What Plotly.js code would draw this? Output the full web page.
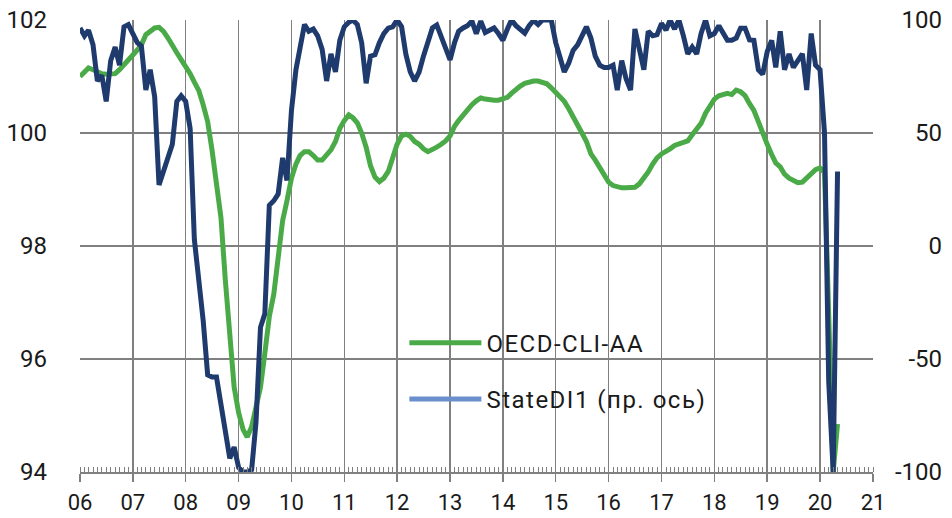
<!DOCTYPE html>
<html><head><meta charset="utf-8">
<script src="https://cdn.plot.ly/plotly-3.0.1.min.js"></script>
<style>html,body{margin:0;padding:0;background:#fff}#chart{width:952px;height:518px}
.legendtext{letter-spacing:1.5px}</style>
</head><body><div id="chart"></div>
<script>
// Monthly data, Jan 2006 .. May 2020
const firstYear = 2006;
const oecdCli = [
101.0,101.08,101.15,101.12,101.08,101.05,101.04,101.04,101.05,101.12,101.2,101.29,
101.38,101.47,101.56,101.74,101.8,101.86,101.87,101.8,101.68,101.53,101.42,101.3,
101.18,101.05,100.9,100.75,100.5,100.2,99.7,99.1,98.5,97.4,96.4,95.5,
95.05,94.75,94.62,94.8,95.15,95.5,96.1,96.75,97.15,97.8,98.45,98.8,
99.2,99.45,99.6,99.67,99.67,99.6,99.52,99.52,99.6,99.7,99.85,100.08,
100.22,100.32,100.27,100.18,100.0,99.75,99.42,99.22,99.14,99.2,99.32,99.55,
99.8,99.95,99.98,99.94,99.85,99.8,99.72,99.67,99.7,99.75,99.8,99.86,
99.95,100.12,100.22,100.32,100.42,100.5,100.57,100.62,100.6,100.58,100.58,100.58,
100.6,100.63,100.7,100.78,100.83,100.88,100.91,100.92,100.92,100.9,100.87,100.8,
100.72,100.64,100.56,100.43,100.3,100.17,100.0,99.85,99.63,99.52,99.38,99.23,
99.13,99.07,99.04,99.03,99.03,99.03,99.04,99.1,99.2,99.31,99.45,99.56,
99.63,99.67,99.72,99.78,99.8,99.82,99.86,99.97,100.07,100.17,100.35,100.48,
100.6,100.66,100.68,100.7,100.68,100.76,100.73,100.66,100.52,100.4,100.2,99.98,
99.8,99.62,99.47,99.4,99.27,99.2,99.15,99.12,99.13,99.2,99.28,99.35,
99.38,99.3,96.8,94.0,94.85
];
const stateDi = [
96.5,93,95.5,89,73,75.5,64,82,88,80,97,98,
94,90,88.5,69,78,66,27,33,40,45,64,66.5,
64,52,3,-15,-33,-57,-58,-58,-71,-84,-94,-89,
-98,-100,-100,-99,-78,-36,-30,18,20,23,39,29,
60,78,88,98,95,96,93,87,73,85,77,91,
97,99,100,98,90,72,84,84.6,90,94,96.4,97,
100,97,85,77,73,77,84,91,96.5,97.8,93,87,
82.4,90,95,96.5,97.5,99.5,94,99.5,94.5,95.5,96.5,94,
91,96,100,97.5,96,94.2,97.5,99.8,98,100,100,100,
90,82,77,81,86.5,89,93,97,92,84,80,79,
79,80,69,82,74,69,96,87,78,95,93,93.5,
98.5,95.5,100,96,100,93,85,88,85,94,100,93,
94,97.5,94,91,91,92,96.4,96.4,91.2,91,78,76,
86,91,79,95,78,85,79,82.4,85,69,94,80,
78,50,-60,-100,33
];
const yearLabels = ['06','07','08','09','10','11','12','13','14','15','16','17','18','19','20','21'];
const leftTicks = [94,96,98,100,102];
const rightTicks = [-100,-50,0,50,100];
const seriesNames = ['OECD-CLI-AA','StateDI1 (пр. ось)'];

function monthDates(n){
  const out=[];
  for(let i=0;i<n;i++){
    const y=firstYear+Math.floor(i/12), m=i%12+1;
    out.push(y+'-'+String(m).padStart(2,'0')+'-01');
  }
  return out;
}
const xCli = monthDates(oecdCli.length);
const xDi = monthDates(stateDi.length);
const yearVals = yearLabels.map(t=>'20'+t+'-01-01');

const font = {family:'Roboto, "DejaVu Sans", sans-serif', size:24, color:'#1a1a1a'};
const xFont = {family:'Roboto, "DejaVu Sans", sans-serif', size:22, color:'#1a1a1a'};
const grid = '#808080';

const traces = [
  {x:xCli, y:oecdCli, name:seriesNames[0], type:'scatter', mode:'lines',
   line:{color:'#4aaa48', width:5}, legendgroup:'a', showlegend:true, hoverinfo:'skip'},
  {x:xDi, y:stateDi, name:seriesNames[1], type:'scatter', mode:'lines', yaxis:'y2',
   line:{color:'#1f3a6d', width:5}, showlegend:false, hoverinfo:'skip'},
  {x:[null], y:[null], name:seriesNames[1], type:'scatter', mode:'lines', yaxis:'y2',
   line:{color:'#6b8fcc', width:5}, legendgroup:'b', showlegend:true, hoverinfo:'skip'}
];

const layout = {
  width:952, height:518,
  margin:{l:80, r:7, t:20, b:46},
  paper_bgcolor:'#fff', plot_bgcolor:'#fff',
  font:font,
  showlegend:true,
  legend:{x:0.375, y:0.335, xanchor:'left', yanchor:'top', bgcolor:'rgba(0,0,0,0)',
          font:font, traceorder:'grouped', tracegroupgap:22, itemwidth:72},
  xaxis:{type:'date', domain:[0,0.91676], range:['2006-01-01','2021-01-01'],
         tickvals:yearVals, ticktext:yearLabels,
         ticks:'outside', ticklen:8, tickcolor:grid, tickwidth:1.5,
         showgrid:true, gridcolor:grid, gridwidth:1.5,
         showline:true, linecolor:grid, linewidth:1.5,
         minor:{dtick:'M1', ticks:'inside', ticklen:5, tickcolor:grid, tickwidth:1, showgrid:false},
         ticklabelstandoff:2, zeroline:false, tickfont:xFont},
  yaxis:{range:[94,102], tickvals:leftTicks, ticktext:leftTicks.map(String),
         showgrid:true, gridcolor:grid, gridwidth:1.5, zeroline:false, showline:false,
         ticks:'', ticklabelstandoff:32, tickfont:font},
  yaxis2:{overlaying:'y', side:'right', anchor:'free', position:1, range:[-100,100],
          tickvals:rightTicks, ticktext:rightTicks.map(String),
          showgrid:false, zeroline:false, showline:false, ticks:'',
          ticklabelposition:'inside', ticklabeloverflow:'allow', tickfont:font}
};

Plotly.newPlot('chart', traces, layout, {staticPlot:true, displayModeBar:false});
</script>
</body></html>
